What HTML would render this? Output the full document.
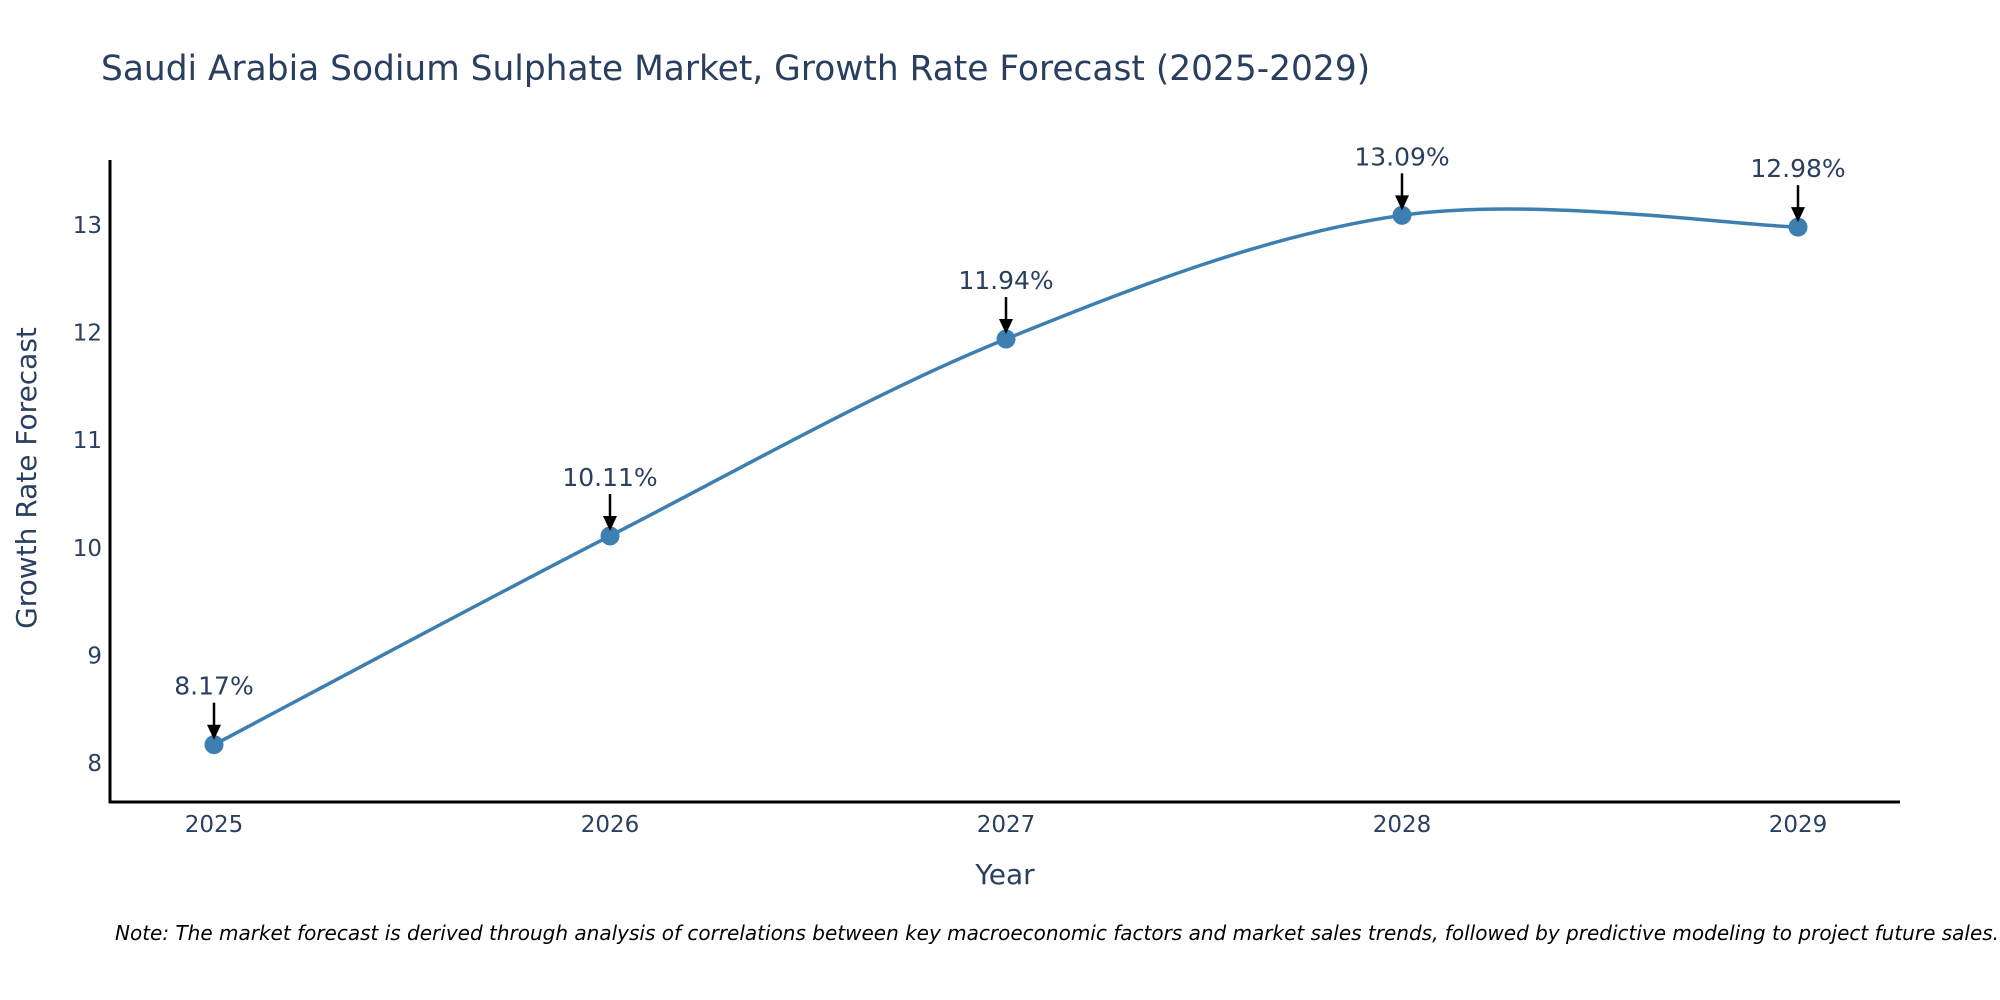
<!DOCTYPE html>
<html><head><meta charset="utf-8"><style>
html,body{margin:0;padding:0;background:#fff;}
svg{display:block;font-family:"DejaVu Sans","Liberation Sans",sans-serif;}
</style></head><body>
<svg id="chart" width="2000" height="1000" viewBox="0 0 2000 1000">
<text x="101" y="80" font-size="34.4" fill="#2a3f5f">Saudi Arabia Sodium Sulphate Market, Growth Rate Forecast (2025-2029)</text>
<g id="yticks"></g>
<g id="xticks"></g>
<line x1="110" y1="160" x2="110" y2="803" stroke="#000" stroke-width="3"/>
<line x1="109" y1="802" x2="1900" y2="802" stroke="#000" stroke-width="3"/>
<text transform="translate(36,478) rotate(-90)" text-anchor="middle" font-size="28" fill="#2a3f5f">Growth Rate Forecast</text>
<text x="1005" y="884" text-anchor="middle" font-size="28" fill="#2a3f5f">Year</text>
<g id="series"></g>
<g id="annots"></g>
<text x="115" y="940" font-size="20" font-style="italic" fill="#000">Note: The market forecast is derived through analysis of correlations between key macroeconomic factors and market sales trends, followed by predictive modeling to project future sales.</text>
</svg>
<script>
const years = [2025, 2026, 2027, 2028, 2029];
const values = [8.17, 10.11, 11.94, 13.09, 12.98];
const labels = ["8.17%", "10.11%", "11.94%", "13.09%", "12.98%"];
const yTicks = [8, 9, 10, 11, 12, 13];

const NS = "http://www.w3.org/2000/svg";
function xScale(v){ return 214 + (v - 2025) * 396; }
function yScale(v){ return 763 - (v - 8) * 107.6; }
function mk(tag, attrs, parent){
  const e = document.createElementNS(NS, tag);
  for (const k in attrs) e.setAttribute(k, attrs[k]);
  parent.appendChild(e); return e;
}
const yt = document.getElementById('yticks');
yTicks.forEach(t => {
  const e = mk('text', {x: 102, y: yScale(t) + 8, 'text-anchor': 'end', 'font-size': 23, fill: '#2a3f5f'}, yt);
  
  
  e.textContent = t;
});
const xt = document.getElementById('xticks');
years.forEach(y => {
  const e = mk('text', {x: xScale(y), y: 832, 'text-anchor': 'middle', 'font-size': 23, fill: '#2a3f5f'}, xt);
  
  
  e.textContent = y;
});
const pts = years.map((y, i) => [xScale(y), yScale(values[i])]);
let d = `M${pts[0][0]},${pts[0][1]}`;
const tns = 0.5;
for (let i = 0; i < pts.length - 1; i++) {
  const p0 = pts[Math.max(0, i - 1)], p1 = pts[i], p2 = pts[i + 1], p3 = pts[Math.min(pts.length - 1, i + 2)];
  const c1 = [p1[0] + (p2[0] - p0[0]) * tns / 3, p1[1] + (p2[1] - p0[1]) * tns / 3];
  const c2 = [p2[0] - (p3[0] - p1[0]) * tns / 3, p2[1] - (p3[1] - p1[1]) * tns / 3];
  d += ` C${c1[0]},${c1[1]} ${c2[0]},${c2[1]} ${p2[0]},${p2[1]}`;
}
const s = document.getElementById('series');
const line = mk('path', {d: d, fill: 'none', stroke: '#3d7fb0', 'stroke-width': 3.5}, s);


const an = document.getElementById('annots');
pts.forEach((p, i) => {
  const c = mk('circle', {cx: p[0], cy: p[1], r: 9.5, fill: '#3d7fb0'}, s);
  
  
  const a = mk('line', {x1: p[0], y1: p[1] - 42, x2: p[0], y2: p[1] - 18, stroke: '#000', 'stroke-width': 2.5}, an);
  
  
  const h = mk('polygon', {points: `${p[0]-7},${p[1]-20} ${p[0]+7},${p[1]-20} ${p[0]},${p[1]-5}`, fill: '#000'}, an);
  
  
  const t = mk('text', {x: p[0], y: p[1] - 50, 'text-anchor': 'middle', 'font-size': 25, fill: '#2a3f5f'}, an);
  
  
  t.textContent = labels[i];
});
</script>
</body></html>
